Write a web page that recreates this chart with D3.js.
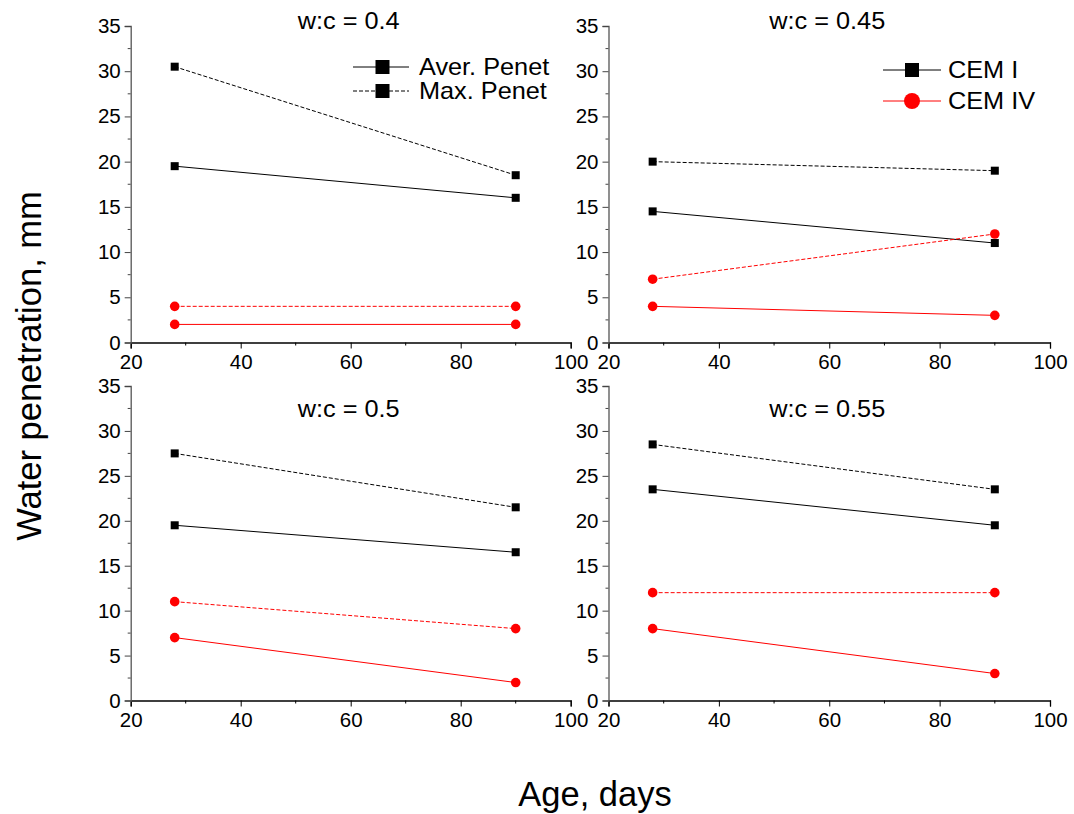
<!DOCTYPE html>
<html>
<head>
<meta charset="utf-8">
<title>Water penetration</title>
<script src="https://d3js.org/d3.v7.min.js"></script>
<style>
  body { margin: 0; background: #fff; }
  text { font-family: Arial, "Liberation Sans", sans-serif; }
</style>
</head>
<body>
<svg width="1074" height="814"></svg>
<script>
// ages in days
const ages = [28, 90];

// one entry per panel: water-cement ratio
const ratios = ["0.4", "0.45", "0.5", "0.55"];

// CEM I average / max penetration, mm (per panel, [28 d, 90 d])
const cem1Aver = [[19.5, 16], [14.5, 11], [19.5, 16.5], [23.5, 19.5]];
const cem1Max  = [[30.5, 18.5], [20, 19], [27.5, 21.5], [28.5, 23.5]];
// CEM IV average / max penetration, mm
const cem4Aver = [[2, 2], [4, 3], [7, 2], [8, 3]];
const cem4Max  = [[4, 4], [7, 12], [11, 8], [12, 12]];

const xTicks = [20, 40, 60, 80, 100];
const yTicks = [0, 5, 10, 15, 20, 25, 30, 35];

const svg = d3.select("svg");

// text that looks a bit wider than plain Arial, like the exported original
function label(x, y, str, size, anchor, sx) {
  return svg.append("text")
    .attr("transform", `translate(${x},${y}) scale(${sx || 1.1},1)`)
    .attr("text-anchor", anchor || "start")
    .attr("font-size", size)
    .text(str);
}

// panel boxes (left, right, bottom, top) in pixels, plus title baseline
const panels = [
  { x0: 130.7, x1: 570.7, y0: 342.5, y1: 26, ty: 29 },
  { x0: 608.5, x1: 1050, y0: 342.5, y1: 26, ty: 29 },
  { x0: 130.7, x1: 570.7, y0: 700.5, y1: 386, ty: 417 },
  { x0: 608.5, x1: 1050, y0: 700.5, y1: 386, ty: 417 }
];

panels.forEach((p, i) => {
  const x = d3.scaleLinear().domain([20, 100]).range([p.x0, p.x1]);
  const y = d3.scaleLinear().domain([0, 35]).range([p.y0, p.y1]);
  const g = svg.append("g");

  // minor ticks
  g.selectAll(".xminor").data([30, 50, 70, 90]).enter().append("line")
    .attr("x1", d => x(d)).attr("x2", d => x(d))
    .attr("y1", p.y0).attr("y2", p.y0 + 3)
    .attr("stroke", "#000").attr("stroke-width", 1);
  g.selectAll(".yminor").data([2.5, 7.5, 12.5, 17.5, 22.5, 27.5, 32.5]).enter().append("line")
    .attr("x1", p.x0 - 3).attr("x2", p.x0)
    .attr("y1", d => y(d)).attr("y2", d => y(d))
    .attr("stroke", "#444").attr("stroke-width", 1);

  // axes
  const xAxis = g.append("g").attr("transform", `translate(0,${p.y0})`)
    .call(d3.axisBottom(x).tickValues(xTicks).tickSizeOuter(0).tickSize(6).tickPadding(6));
  xAxis.select(".domain").attr("stroke", "#000").attr("stroke-width", 1.3);
  xAxis.selectAll("text").attr("font-size", 20.5).attr("fill", "#000");

  const yAxis = g.append("g").attr("transform", `translate(${p.x0},0)`)
    .call(d3.axisLeft(y).tickValues(yTicks).tickSizeOuter(0).tickSize(6).tickPadding(4));
  yAxis.select(".domain").attr("stroke", "#555").attr("stroke-width", 1.3);
  yAxis.selectAll(".tick line").attr("stroke", "#444");
  yAxis.selectAll("text").attr("font-size", 20.5).attr("fill", "#000");

  // title
  label((p.x0 + p.x1) / 2 - 2, p.ty, "w:c = " + ratios[i], 23, "middle");

  const series = [
    { vals: cem1Aver[i], color: "#000", dash: null, shape: "square" },
    { vals: cem1Max[i], color: "#000", dash: "4,2", shape: "square" },
    { vals: cem4Aver[i], color: "red", dash: null, shape: "circle" },
    { vals: cem4Max[i], color: "red", dash: "4,2", shape: "circle" }
  ];
  const line = d3.line().x((d, k) => x(ages[k])).y(d => y(d));

  series.forEach(s => {
    g.append("path").datum(s.vals)
      .attr("d", line)
      .attr("fill", "none")
      .attr("stroke", s.color)
      .attr("stroke-width", 1)
      .attr("stroke-dasharray", s.dash);
    if (s.shape === "square") {
      g.selectAll(null).data(s.vals).enter().append("rect")
        .attr("x", (d, k) => x(ages[k]) - 4).attr("y", d => y(d) - 4)
        .attr("width", 8).attr("height", 8).attr("fill", "#000");
    } else {
      g.selectAll(null).data(s.vals).enter().append("circle")
        .attr("cx", (d, k) => x(ages[k])).attr("cy", d => y(d))
        .attr("r", 4.8).attr("fill", "red");
    }
  });
});

// legend: line style (top-left panel)
const styleLegend = [
  { label: "Aver. Penet", dash: null, y: 67 },
  { label: "Max. Penet", dash: "4,2", y: 91 }
];
styleLegend.forEach(l => {
  svg.append("line").attr("x1", 353).attr("x2", 409).attr("y1", l.y).attr("y2", l.y)
    .attr("stroke", "#000").attr("stroke-width", 1).attr("stroke-dasharray", l.dash);
  svg.append("rect").attr("x", 375.5).attr("y", l.y - 7).attr("width", 14).attr("height", 14).attr("fill", "#000");
  label(419, l.y + 8, l.label, 23);
});

// legend: cement type (top-right panel)
const cemLegend = [
  { label: "CEM I", color: "#000", shape: "square", y: 70 },
  { label: "CEM IV", color: "red", shape: "circle", y: 101 }
];
cemLegend.forEach(l => {
  svg.append("line").attr("x1", 883).attr("x2", 941).attr("y1", l.y).attr("y2", l.y)
    .attr("stroke", l.color).attr("stroke-width", 1);
  if (l.shape === "square") {
    svg.append("rect").attr("x", 905).attr("y", l.y - 7).attr("width", 14).attr("height", 14).attr("fill", l.color);
  } else {
    svg.append("circle").attr("cx", 912).attr("cy", l.y).attr("r", 8).attr("fill", l.color);
  }
  label(948, l.y + 8, l.label, 23);
});

// axis titles
svg.append("text")
  .attr("transform", "translate(41,366) rotate(-90)")
  .attr("text-anchor", "middle")
  .attr("font-size", 34.5)
  .text("Water penetration, mm");

svg.append("text")
  .attr("x", 595).attr("y", 806)
  .attr("text-anchor", "middle")
  .attr("font-size", 34.5)
  .text("Age, days");
</script>
</body>
</html>
